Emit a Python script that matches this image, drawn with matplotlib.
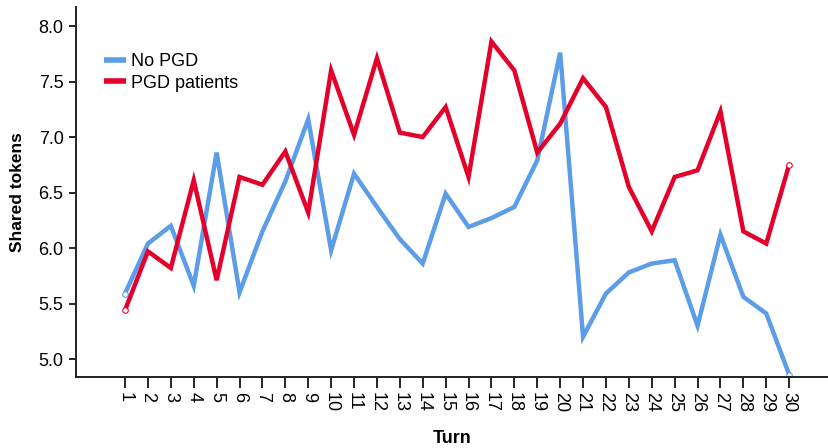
import matplotlib
matplotlib.use("Agg")
import matplotlib.pyplot as plt

plt.rcParams["font.family"] = ["Liberation Sans", "DejaVu Sans"]

turns = list(range(1, 31))
tick_labels = [str(t) for t in turns]
no_pgd = [5.59, 6.04, 6.20, 5.66, 6.86, 5.60, 6.15, 6.60, 7.16, 5.98,
          6.67, 6.37, 6.08, 5.86, 6.49, 6.19, 6.27, 6.37, 6.79, 7.76,
          5.20, 5.59, 5.78, 5.86, 5.89, 5.30, 6.12, 5.56, 5.41, 4.86]
pgd = [5.44, 5.97, 5.82, 6.61, 5.71, 6.64, 6.57, 6.87, 6.32, 7.60,
       7.02, 7.71, 7.04, 7.00, 7.27, 6.64, 7.86, 7.60, 6.86, 7.12,
       7.53, 7.27, 6.55, 6.15, 6.64, 6.70, 7.23, 6.15, 6.04, 6.75]

blue = "#5B9DE8"
red = "#E3002B"

fig = plt.figure(figsize=(8.29, 4.48), dpi=100)
ax = fig.add_axes([0.0917, 0.1585, 0.9083, 0.8255])

for vals, col, lab in [(no_pgd, blue, "No PGD"), (pgd, red, "PGD patients")]:
    ax.plot(turns, vals, color=col, lw=3.2, label=lab,
            solid_joinstyle="miter", solid_capstyle="butt",
            marker="o", markevery=[0, len(vals) - 1], ms=4,
            mfc="white", mec=col, mew=0.8)

ax.set_xlim(-1.14, 31.74)
ax.set_ylim(4.838, 8.17)
ax.set_xticks(turns)
ax.set_xticklabels(tick_labels, rotation=-90, fontsize=13)
ax.set_yticks([5.0, 5.5, 6.0, 6.5, 7.0, 7.5, 8.0])
ax.set_yticklabels(["5.0", "5.5", "6.0", "6.5", "7.0", "7.5", "8.0"], fontsize=13)
ax.tick_params(axis="y", length=5, width=1.2, direction="out", pad=4)
ax.tick_params(axis="x", length=8, width=1.2, direction="out", pad=3)

for s in ["top", "right"]:
    ax.spines[s].set_visible(False)
for s in ["left", "bottom"]:
    ax.spines[s].set_linewidth(1.4)
    ax.spines[s].set_color("#222222")

ax.set_xlabel("Turn", fontsize=13, fontweight="bold", labelpad=13)
ax.set_ylabel("Shared tokens", fontsize=12.5, fontweight="bold", labelpad=10)

leg = ax.legend(loc="upper left", bbox_to_anchor=(0.028, 0.895), frameon=False,
                fontsize=13, handlelength=1.2, handletextpad=0.3,
                labelspacing=0.25, borderaxespad=0)
for h in leg.legend_handles:
    h.set_marker("")
    h.set_linewidth(4)

fig.savefig("out.png", dpi=100)
